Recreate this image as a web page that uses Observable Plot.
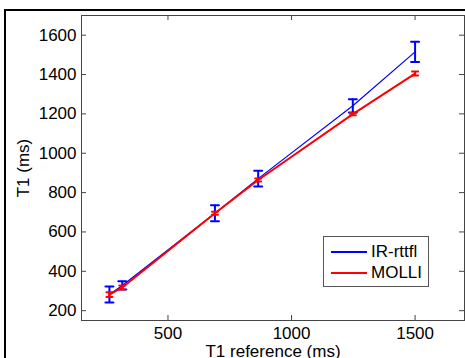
<!DOCTYPE html>
<html>
<head>
<meta charset="utf-8">
<script src="https://cdn.jsdelivr.net/npm/d3@7"></script>
<script src="https://cdn.jsdelivr.net/npm/@observablehq/plot@0.6"></script>
<style>
  html, body { margin: 0; padding: 0; background: #fff; }
  #wrap { position: relative; width: 465px; height: 358px; overflow: hidden; font-family: "Liberation Sans", Arial, sans-serif; }
  #outer { position: absolute; left: 4px; top: 9px; width: 600px; height: 600px; border: 2px solid #000; box-sizing: border-box; pointer-events: none; }
  #legend { position: absolute; left: 323px; top: 236px; width: 106px; height: 51px; border: 1px solid #555; background: #fff; box-sizing: border-box; }
  .lg-row { position: absolute; left: 0; height: 20px; width: 100%; }
  .lg-line { position: absolute; left: 7px; width: 36px; top: 9px; height: 2px; }
  .lg-text { position: absolute; left: 47px; top: 0; font-size: 17px; line-height: 20px; color: #000; white-space: nowrap; }
</style>
</head>
<body>
<div id="wrap"></div>
<script>
// ---- data ----
const t1Reference = [263, 315, 690, 865, 1248, 1500];
const irMean = [282, 328, 695, 871, 1241, 1515];
const irSd = [41, 21, 41, 40, 34, 51];
const molliMean = [282, 318, 695, 864, 1199, 1405];
const molliSd = [12, 10, 8, 8, 6, 10];
const seriesNames = ["IR-rttfl", "MOLLI"];
const seriesColors = ["#0000ff", "#ff0000"];
const xTicks = [500, 1000, 1500];
const yTicks = [200, 400, 600, 800, 1000, 1200, 1400, 1600];
const xLabel = "T1 reference (ms)";
const yLabel = "T1 (ms)";

const build = (means, sds) => t1Reference.map((x, i) => ({x, y: means[i], lo: means[i] - sds[i], hi: means[i] + sds[i]}));
const ir = build(irMean, irSd);
const molli = build(molliMean, molliSd);

const lineShape = {draw(context, l) { context.moveTo(0, 0); context.lineTo(0, -l); }};

function errMarks(rows, color, lw, barW, capW) {
  return [
    Plot.line(rows, {x: "x", y: "y", stroke: color, strokeWidth: lw}),
    Plot.ruleX(rows, {x: "x", y1: "lo", y2: "hi", stroke: color, strokeWidth: barW}),
    Plot.vector(rows, {x: "x", y: "lo", length: capW, rotate: 90, anchor: "middle", shape: lineShape, stroke: color, strokeWidth: barW}),
    Plot.vector(rows, {x: "x", y: "hi", length: capW, rotate: 90, anchor: "middle", shape: lineShape, stroke: color, strokeWidth: barW})
  ];
}

const axisColor = "#444";
const chart = Plot.plot({
  width: 465,
  height: 358,
  marginLeft: 81,
  marginRight: 1,
  marginTop: 15,
  marginBottom: 38,
  style: {fontFamily: '"Liberation Sans", Arial, sans-serif', fontSize: "17px", color: "#000", background: "transparent"},
  x: {domain: [150, 1700], ticks: xTicks, tickSize: 0, tickPadding: 6, tickFormat: "d", label: null},
  y: {domain: [150, 1700], ticks: yTicks, tickSize: 0, tickPadding: 5, tickFormat: "d", label: null},
  marks: [
    Plot.tickX(xTicks, {x: d => d, insetTop: 300, stroke: axisColor}),
    Plot.tickX(xTicks, {x: d => d, insetBottom: 300, stroke: axisColor}),
    Plot.tickY(yTicks, {y: d => d, insetRight: 378, stroke: axisColor}),
    Plot.tickY(yTicks, {y: d => d, insetLeft: 378, stroke: axisColor}),
    ...errMarks(ir, seriesColors[0], 1.2, 2, 8),
    ...errMarks(molli, seriesColors[1], 2, 2, 6),
    Plot.frame({stroke: axisColor}),
    Plot.text([xLabel], {text: d => d, frameAnchor: "bottom", dy: 24, lineAnchor: "top", fontSize: 17, fill: "#000"}),
    Plot.text([yLabel], {text: d => d, frameAnchor: "left", dx: -58, rotate: -90, textAnchor: "middle", lineAnchor: "middle", fontSize: 17, fill: "#000"})
  ]
});

const wrap = document.getElementById("wrap");
chart.style.position = "absolute";
chart.style.left = "0px";
chart.style.top = "0px";
wrap.appendChild(chart);

const outer = document.createElement("div");
outer.id = "outer";
wrap.appendChild(outer);

const legend = document.createElement("div");
legend.id = "legend";
seriesNames.forEach((name, i) => {
  const row = document.createElement("div");
  row.className = "lg-row";
  row.style.top = (5 + i * 21) + "px";
  const ln = document.createElement("div");
  ln.className = "lg-line";
  ln.style.background = seriesColors[i];
  const tx = document.createElement("div");
  tx.className = "lg-text";
  tx.textContent = name;
  row.appendChild(ln);
  row.appendChild(tx);
  legend.appendChild(row);
});
wrap.appendChild(legend);
</script>
</body>
</html>
